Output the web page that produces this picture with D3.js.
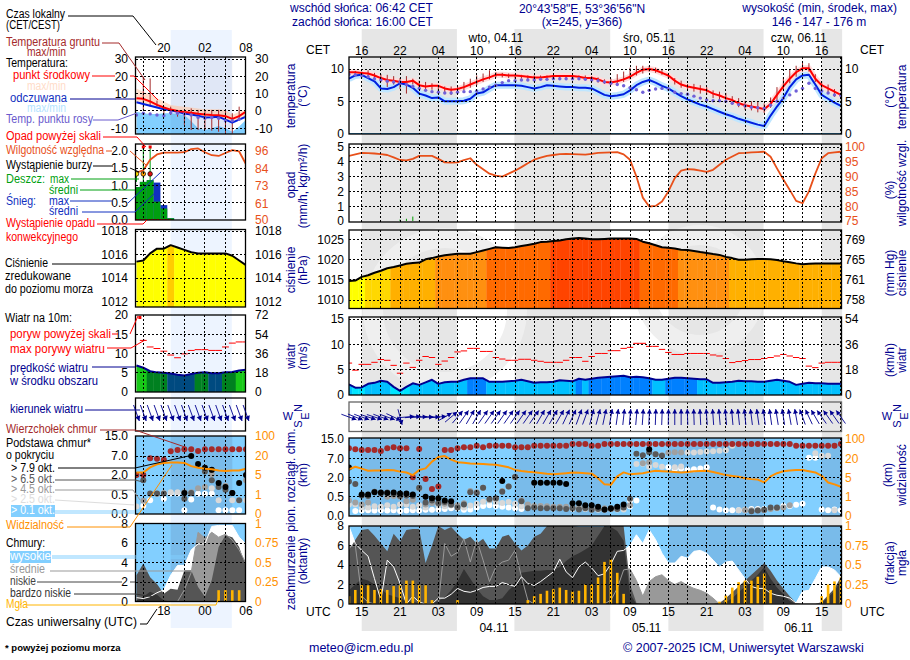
<!DOCTYPE html>
<html>
<head>
<meta charset="utf-8">
<script src="https://cdn.jsdelivr.net/npm/d3@7"></script>
<style>
html, body { margin: 0; padding: 0; background: #fff; }
text { font-family: "Liberation Sans", Arial, sans-serif; font-size: 12px; }
</style>
</head>
<body>
<svg id="chart" width="910" height="660"></svg>
<script>
// hours counted from 03.11 15 UTC, one value per hour, -2 .. 75
var hours = d3.range(-2, 76);
// small panel: 14 UTC .. 06 UTC next day (24 = 00 UTC)
var hoursL = d3.range(14, 31);

var tempMid = [9.5,9.5,9.4,9.3,9.0,8.6,8.3,8.2,8.0,8.0, 8.2,7.5,7.3,7.4,7.4,7.0,6.8,6.9,7.2,7.6, 8.0,8.4,8.7,9.1,9.1,9.0,9.0,8.9,8.8,8.7, 8.7,8.8,8.9,8.9,8.9,8.9,8.8,8.6,8.6,8.4, 8.0,7.9,8.1,8.4,8.8,9.4,9.9,10,9.8,9.4, 9.0,8.2,7.6,7.3,7.1,6.9,6.7,6.2,5.9,5.5, 5.2,4.7,4.4,4.2,4.0,3.8,4.6,6.0,7.3,8.5, 9.5,10.1,10.1,8.5,7.5,7.0,6.5,6.0];
var tempFeel = [8.5,9.0,9.1,8.6,8.1,7.0,6.9,7.2,7.8,7.6, 7.1,6.2,5.9,5.5,5.6,5.0,5.0,5.0,5.1,5.4, 6.2,6.4,7.0,7.5,7.5,7.5,7.5,7.4,7.2,7.0, 7.2,7.5,7.4,7.3,7.2,7.2,7.1,7.1,7.0,6.5, 6.0,5.8,5.9,6.1,6.7,7.5,8.0,8.3,7.9,7.4, 7.0,6.4,5.8,5.3,4.9,4.5,4.2,3.8,3.4,3.0, 2.7,2.3,2.0,1.7,1.4,1.2,2.8,4.2,5.5,7.2, 8.4,9.0,9.1,7.6,6.0,5.4,4.8,4.3];
var tempDew = [9.2,9.1,9.0,8.8,8.5,8.3,8.1,8.0,8.0,7.6, 7.3,7.0,6.7,6.5,6.4,6.3,6.3,6.4,6.5,6.5, 6.6,6.9,7.2,7.5,7.9,8.2,8.2,8.3,8.3,8.3, 8.4,8.4,8.5,8.5,8.5,8.5,8.5,8.4,8.3,8.2, 8.0,7.8,7.6,7.4,7.1,6.8,6.4,6.7,6.9,7.0, 6.9,6.4,6.2,6.1,5.8,5.5,5.2,5.1,5.1,5.0, 4.7,4.5,4.3,4.1,4.0,3.9,4.4,5.0,5.5,6.0, 6.6,7.0,7.8,7.0,6.6,6.3,6.0,5.9];
var soilMax = [9.7,9.7,9.6,9.8,9.4,9.2,9.1,8.9,8.6,8.9, 8.5,8.2,8.0,7.8,7.5,7.3,7.3,7.5,8.0,8.5, 9.0,9.3,9.8,9.5,9.4,9.3,9.2,9.1,9.0,9.0, 9.0,9.0,9.0,9.0,9.0,9.0,9.0,9.0,8.9,8.7, 8.4,8.5,9.2,9.6,10.2,10.5,10.5,10.5,10.2,10.0, 9.3,8.6,8.2,7.7,7.7,7.5,7.2,6.7,6.5,6.3, 5.8,5.5,5.1,5.0,4.9,4.7,5.6,7.2,8.7,9.9, 10.5,11,10.9,9.2,8.1,7.6,6.9,6.2];
var soilMin = [9.3,9.2,8.6,8.8,8.5,8.0,7.2,7.6,6.9,6.2, 7.6,6.9,6.7,6.8,6.6,6.2,6.0,6.2,6.7,7.1, 7.5,8.0,8.4,8.7,8.7,8.6,8.5,8.5,8.4,8.4, 8.4,8.5,8.5,8.5,8.5,8.5,8.4,8.3,8.2,7.9, 7.7,7.5,7.7,8.0,8.4,9.0,9.3,9.6,9.4,9.1, 8.5,7.6,7.1,6.8,6.5,6.2,6.0,5.5,5.1,4.9, 4.5,4.1,3.7,3.6,3.3,3.2,4.0,5.2,6.7,7.8, 8.8,9.6,9.6,8.0,6.9,6.3,5.7,5.5];
var humidity = [97,97.5,98,97.9,97.8,97.6,97.3,96.5,95.6,95.5, 96,97,97,97,96,94.8,94.7,94.8,95.6,96.2, 94,92.5,91,90.3,90,91,92,93.2,94.5,95.7, 96.4,97,97.3,97.6,97.7,97.6,97.5,97.4,97.7,98, 98.1,98.2,98.3,97.5,95.7,90,82.9,79.9,80.1,81.6, 85,89.5,92,92.5,92.4,92,91.6,92.3,94,95.7, 96.8,97.9,98,98.2,98.3,98.4,96.7,92.8,89,85.5, 81.8,81,85,91,96.2,97.9,98.2,98.4];
var precipMax = [0,0,0,0,0,0,0,0,0.1,0.15, 0.3,0.03,0,0,0,0,0,0,0,0];
var pressure = [1014.7,1014.8,1015.7,1016.1,1016.7,1017.2,1017.8,1018.1,1018.5,1018.9, 1019.1,1019.2,1020.0,1020.3,1020.7,1021,1021.2,1021.4,1021.4,1021.4, 1021.8,1022.2,1022.6,1023,1022.9,1022.8,1023,1023.3,1023.6,1023.9, 1024.3,1024.4,1024.6,1024.7,1025,1025.2,1025.3,1025.2,1025,1025, 1025.1,1025.2,1025.2,1025.2,1025.2,1025.1,1024.4,1024,1023.5,1023, 1022.9,1022.7,1022.4,1022.3,1022.1,1021.8,1021.6,1021.3,1021.1,1020.6, 1020.3,1019.9,1019.9,1020,1020.1,1020.1,1020,1019.8,1019.5,1019.3, 1019,1018.8,1018.9,1019,1019,1019,1019,1019];
var windMean = [2.1,1.45,1.5,2.2,2.4,2.8,2.6,1.6,0.8,1.6, 2.3,2,2.5,3,2.2,2.5,2.6,2.6,3,3.3, 3.3,3.3,2.6,2.6,2.6,2.7,2.8,3,2.7,2.4, 2.5,2.5,2.6,2.9,2.8,2.7,3.2,3.0,3.2,3.4, 3.5,3.6,3.7,3.8,3.5,3.6,3.5,3.3,3,3, 3.2,3.4,3.4,3.3,3.2,3.1,3.1,2.4,2.4,2.5, 2.6,2.8,2.7,2.7,2.6,2.6,2.8,3,2.8,2.6, 2,2.2,2.4,2.3,2.3,2.2,2.2,2.2];
var windGust = [6.3,4.9,6.05,6.05,6.45,7,6.85,5.85,4.3,6.3, 5.45,6.85,7.6,7.4,6.05,6.7,7.4,8.5,8.7,9.2, 9.2,8.6,8.6,7.4,7.1,6.85,6.85,7.05,7.05,6.85, 6.65,6.45,6.45,6.45,6.85,7.4,7.4,6.65,7.6,8.2, 8.2,8.75,8.75,9.2,9.4,10.2,10.2,9.6,9.6,9, 8.4,8,8,8.2,8.2,8.2,8.2,7.9,7.7,7.2, 6.4,6.6,6.8,7,7,7.2,7.4,7.7,8,7.7, 7.4,7.2,5.7,5.4,6.3,6.45,6.45,6.45];
var windDir = [110,112,110,108,108,110,110,115,165,85, 85,88,90,90,85,60,50,40,35,30, 30,35,35,35,35,35,35,35,35,35, 30,30,30,30,25,25,20,20,15,15, 12,10,8,6,5,5,4,3,2,2, 1,0,0,358,358,357,356,356,355,355, 355,354,354,353,352,352,352,351,351,350, 350,340,335,330,325,325,325,325];
var visibility = [11.5,13.5,12,10.4,10.5,10.6,11,10.8,9.7,9, 7,11,12.2,17.4,25,29,19,17,16.5,16, 15.7,15.5,15.3,15,14,13,11,10.2,9.6,9.2, 8.6,8,7.6,8,8.5,9.1,8.8,8.4,8.1,4.9, 3.6,3.5,6,9.1,7.6,8,8.5,9.5,10.4,10, 9.7,9.4,9.1,9.5,10,10.2,10.4,9.4,8.2,7, 6.4,5.8,4.9,4.7,4.6,4,6,8.5,10,10.5, 11,11,10,9.1,6.5,4,3.6,3.1];
var cloudHigh = [8,6.2,5.5,4.9,2.6,0.4,4.5,3.8,2.1,0, 0.8,0.2,0,0,0.6,0.6,1,1.6,1.3,1.2, 1.4,1.7,1.8,1.8,2.2,2,1.8,2.8,2.1,1.9, 2.3,2.8,3.3,4.6,3.3,2.7,3.8,4.3,3.7,2.9, 3.1,4.1,5.4,5.5,6,7.1,6.2,7.6,6.6,5.2, 4.2,4.2,4.9,4.7,5.4,5.5,5.2,4.5,3.8,4.3, 4.4,3.5,2.6,1.8,1.6,1.6,1.1,0.9,0.8,0.6, 0.1,1.3,1.4,2.6,3.8,3.8,3.5,2.8];
var cloudMid = [5.9,6.0,0.8,0.2,0,0,0,0,0,0, 0,0,0,0,0,6.2,4.9,5.3,6.7,4.3, 6.6,4.5,2.3,3.8,4.3,4.5,5.5,2.8,0.4,0, 0,0,0,0,0,0,0,0,0,0, 0,0.4,1.6,3.5,3.6,2.4,0.8,2.3,2.8,3, 2.4,2,2.3,1.9,1.6,1.4,1.1,0.6,0,0, 0,0,0,0,0,0,0,0,0,0, 0,0,0,0,0,0,0,0];
var cloudLow = [5.5,6.6,7.6,7.7,7.0,6.2,5.4,7.2,6.4,7.6, 7.7,7.7,4.2,6.0,8,7.6,7.9,7.2,6.6,6.9, 6.2,6.7,5.7,5.7,6.9,7.1,6.2,5.5,6,6.9, 7.2,8,8,8,8,8,7.9,7.9,7.9,7.9, 7.9,8,8,8,2,0.1,0,0,0,0, 0,0,0,0,0,0,0,0,0.1,0.6, 1.2,1.8,2.4,3,3.6,4.2,3.4,2.4,1.6,0.8, 0.1,0,0,0,0.2,0.9,1.6,2.8];
var cloudVLow = [1.4,2,2.6,2.4,2,1.6,1,0.8,0.6,0.3, 0.2,0.1,0.1,0.1,0.3,0.7,1.4,2.3,3.6,2.6, 1.6,0.8,0.4,0.4,0.6,1.4,2,3.2,3.3,3.4, 3.4,3.5,3.5,3.8,4.4,4.9,5.2,5.6,6,7, 8,7.9,7.5,6.5,1,0,0,0,0,0, 0,0,0,0,0,0,0,0,0,0.2, 0.6,1.2,1.8,2.4,3,3.8,2.6,1.7,1,0.3, 0,0,0,0,0.1,0.7,1.3,2.4];
var fog = [0.1,0.18,0.24,0.24,0.18,0.19,0.18,0.23,0.24,0.3, 0.3,0.24,0.24,0.05,0,0,0,0.05,0,0, 0,0,0,0,0,0,0,0,0.05,0.1, 0.13,0.17,0.19,0.21,0.18,0.16,0.17,0.25,0.25,0.34, 0.54,0.57,0.4,0.13,0,0,0,0,0,0, 0,0,0,0,0,0,0,0,0.03,0.11, 0.21,0.28,0.3,0.3,0.35,0.39,0.18,0,0,0, 0,0,0,0,0.1,0.25,0.29,0.34];
var cloudTop = [11,10.6,10.3,10.3,10.3,9.9,11,11.4,11,11, 2.1,10.7,1.9,1.1,1.3,10.3,10.3,11,11.4,11.4, 12,11.4,12,12,12,12,11.4,11.4,11.4,12, 12,12,12,12,12,12.7,12.7,12.7,12,12, 12.7,12.7,12.7,12.7,12.7,12.7,12.7,12.7,12.7,12.7, 12.7,12.7,12.7,12.7,12.7,12.7,12.7,12.7,12.7,12.7, 12.7,12.7,12.7,12.7,12.7,12.7,12.7,12.7,12.7,12.7, 12,12,12,12,12,12,12,12.7];
// cloud base [hour, km], only hours where the marker shows
var baseWhite = [[-1,0.13],[0,0.14],[1,0.15],[2,0.14],[3,0.15],[4,0.14],[5,0.15],[6,0.13],[7,0.14],[8,0.15],[9,0.14],[10,0.16],[11,0.16],[12,0.17],[13,0.18],[14,0.2],[15,0.2],[16,0.16],[17,0.17],[18,0.22],[19,0.26],[20,0.28],[21,0.26],[22,0.24],[23,0.22],[24,0.2],[25,0.18],[42,0.25],[42,0.4],[43,0.4],[48,4.7],[49,4.2],[50,4.4],[51,4],[52,4.2],[53,4.4],[54,4.7],[55,0.22],[56,0.17],[57,0.15],[58,0.15],[59,0.15],[60,0.15],[61,0.18],[62,0.18],[63,0.18],[64,0.2],[65,0.2],[66,0.26],[67,0.26],[68,0.29],[69,0.32],[70,7.2],[71,7.2],[72,0.17],[73,0.15],[74,0.17],[75,0.15]];
var baseLight = [[-2,0.3],[-1,0.3],[0,0.22],[1,0.22],[2,0.25],[3,0.24],[4,0.28],[5,0.24],[6,0.3],[7,0.3],[8,0.24],[9,0.28],[10,0.22],[12,0.28],[13,0.25],[16,0.22],[17,0.27],[18,0.32],[19,0.37],[20,0.4],[21,0.36],[22,0.34],[23,0.36],[24,0.32],[25,0.25],[26,0.28],[27,0.26],[28,0.25],[29,0.24],[30,0.23],[31,0.22],[32,0.2],[33,0.18],[34,0.18],[35,0.18],[36,0.17],[37,0.16],[38,0.16],[39,0.18],[40,0.17],[41,0.17],[43,5.5],[44,5.6],[45,4.8],[46,5.3],[47,4.8],[49,4.7],[50,4.9],[51,9.3],[52,9.3],[53,9.5],[54,9.7],[55,9.8],[56,10],[57,10.2],[58,12],[59,0.15],[60,0.16],[72,8],[73,8],[71,9],[74,0.15]];
var baseMid = [[-2,0.4],[-1,0.35],[0,0.3],[1,0.35],[4,0.5],[5,0.55],[6,0.5],[7,0.38],[8,0.42],[9,1.15],[10,0.3],[11,0.34],[12,0.32],[13,0.32],[14,0.28],[15,0.28],[16,0.33],[17,0.95],[18,0.85],[19,1.2],[20,0.42],[21,0.45],[22,0.95],[23,1.3],[24,2.2],[25,0.4],[26,0.3],[27,0.26],[28,0.26],[29,0.25],[30,0.24],[31,0.24],[32,0.24],[33,0.22],[34,0.22],[35,0.22],[36,0.2],[37,0.2],[38,0.2],[39,0.2],[40,0.22],[41,0.24],[42,0.28],[44,5.7],[45,6],[46,8.6],[47,8.2],[48,9.2],[49,9.4],[50,9.3],[60,0.15],[61,0.15],[62,0.15],[63,0.15],[64,0.18],[65,0.2],[66,0.22],[67,0.28]];
var baseDark = [[-2,1.7],[-1,1.5],[0,0.6],[1,0.55],[2,0.9],[3,0.75],[4,0.84],[5,0.7],[6,0.55],[7,0.6],[8,0.55],[9,1.2],[10,0.35],[11,0.4],[12,0.34],[13,0.36],[14,0.3],[15,0.22],[16,0.3],[17,0.85],[18,0.8],[19,1.2],[20,0.44],[21,0.46],[22,0.9],[23,1.3],[24,2.2],[25,0.38],[26,0.2],[27,0.22],[28,0.2],[29,0.2],[30,0.2],[31,0.2],[32,0.18],[33,0.2],[34,0.17],[35,0.2],[36,0.16],[37,0.18],[38,0.16],[39,0.18],[40,0.18],[41,0.22],[42,0.45],[43,8.8],[44,8.2],[45,9.4],[46,8.6],[47,8],[61,0.12],[62,0.14],[63,0.16],[64,0.22],[65,0.22]];
var baseBlack = [[-2,4.6],[0,0.68],[1,0.68],[2,0.85],[3,0.84],[4,0.8],[5,0.84],[6,0.76],[7,0.76],[8,0.68],[10,0.5],[11,0.46],[12,0.46],[13,0.4],[14,0.38],[22,1.74],[27,1.6],[28,1.6],[29,1.6],[30,1.6],[31,1.6],[32,1.5],[33,0.33],[34,0.33],[35,0.28],[36,0.28],[37,0.24],[38,0.17],[39,0.2],[40,0.24],[41,0.3],[45,10.6]];

var days = ["wto, 04.11", "śro, 05.11", "czw, 06.11"];
var dayHours = [21, 45, 68.4];
var utcDays = ["04.11", "05.11", "06.11"];
var utcDayHours = [20.7, 44.6, 68.4];
var localTicks = ["16","22","04","10","16","22","04","10","16","22","04","10","16"];
var utcTicks = ["15","21","03","09","15","21","03","09","15","21","03","09","15"];
var nightBands = [[0, 14.9], [23.9, 38.9], [48, 62.9], [72, 75.2]];

// small panel series
var tempMidL = [7.3,7,5.5,3.5,2,0.8,0,-0.6,-1,-1.6,-2,-2.3,-2.5,-3,-4.6,-3,-0.4];
var tempFeelL = [5,4,3,2,1,0.4,-0.5,-1.5,-2,-2.8,-3.7,-3.6,-3.4,-5,-6.7,-5,-3.3];
var tempMaxL = [13,11,9.8,7.3,5.4,3.5,2.9,2.5,2,1.5,1,1,1,0.6,-2.3,-0.4,0.6];
var tempLowL = [-0.4,-1.3,-1.7,-1.7,-1.3,-1.3,-1.7,-2.3,-6,-10,-11,-10,-8.6,-10,-12,-9,-5];
var tempDewL = [-2.3,-1.3,-1.7,-2.3,-2.7,-1,-1.3,-1.7,-2.3,-3.7,-4.2,-3.7,-4.2,-5.6,-5.6,-4.8,-3.3];
var soilMaxL = [null,19.8,18.8,6,2.5,2.5,0.6,-2.3,1.5,0.6,0.6,0.6,0.6,0.6,-1.3,2.5,-1.3];
var soilMinL = [null,0.6,2.5,2.5,-2.3,-2.3,-3.3,-8,-11,-11,-11,-11.4,-12,-13,-13,-5,-5];
var humidityL = [81.5,83,90,93.5,94.7,94.7,94.7,95,97,97.5,95,93,92.5,94.5,96.4,95.5,87];
var rainMeanL = [0.95,1.1,1.15,0.53,0.33,0.05,0,0,0,0,0,0,0,0,0,0,0];
var snowMaxL = [0.95,1.1,1.15,1.08,0.43,0.05,0,0,0,0,0,0,0,0,0,0,0];
var stormHoursL = [14, 15, 16];
var stormColorsL = ["#ffe000", "#ffa000", "#e01010"];
var overScaleHoursL = [15, 16];
var pressureL = [1015.4,1015.5,1016.1,1016.5,1016.5,1016.8,1016.6,1016.4,1016.2,1016.1,1016.1,1016.1,1016.1,1016.1,1015.9,1015.5,1015.1];
var windMeanL = [6.9,6.3,5.4,5.1,5,4.8,4.5,4.3,4.7,5,5.1,4.9,4.9,5.1,5.2,5.6,5.8];
var windGustL = [null,13.4,11.7,11.3,10.6,9.6,8.9,9.9,10.8,11,11,10.8,10.8,11.7,12.7,13,13];
var windDirL = [160,160,160,160,160,160,160,160,160,160,160,160,160,160,160,160,160];
var visibilityL = [7,7,11,13.5,14.5,14.8,14.8,14.5,12,10.8,10,9.5,8.5,8.2,8.6,8.5,10];
var cloudHighL = [0.4,0.3,0.5,0.9,1.2,2.7,3.7,3.7,5.3,5.9,5.9,7.7,7.8,7.8,7.8,6.6,5.9];
var cloudMidL = [0,0,0,0,0,0,0,1.2,3,7.1,6.5,7.1,6.6,6.9,6.3,5.3,3.9];
var cloudLowL = [2.7,3.9,2.5,1.8,0.8,1.3,1.2,3.2,3.2,1.5,0.5,2.2,5.6,6.8,6.6,5.6,3.6];
var cloudVLowL = [0.1,0.5,1,0.7,0.1,0,0,0,0,0,0,0,0,0,0,0,0];
var fogL = [0,0,0,0,0,0,0,0,0,0,0,0,0.145,0.145,0.145,0.145,0];
var topL = [2,2,6.4,6.3,6,8.9,9.4,9.7,9.7,9,9.7,9.7,9.7,9.7,9.7,9.7,9.7];
var baseWhiteL = [[15,0.22],[16,0.36],[18,0.4],[19,0.62],[20,0.62],[21,0.1],[22,0.38],[23,0.6],[24,0.6],[25,0.6],[26,0.1],[27,0.1],[28,0.1],[29,0.1]];
var baseLightL = [[14,0.2],[17,0.6],[18,0.65],[19,0.7],[20,0.7],[26,0.36],[28,0.36],[29,0.36],[30,0.36],[25,1]];
var baseMidL = [[15,0.35],[17,0.6],[21,0.7],[22,0.7],[23,1],[24,1.1],[25,2.2],[27,1.2],[30,1.6]];
var baseDarkL = [[15,1.6],[16,0.62],[17,0.62],[18,0.62],[21,0.4],[22,0.65],[24,2.9],[25,3.3],[25,1.6],[26,1.1],[27,0.9],[28,0.65],[29,0.36]];
var baseBlackL = [[21,0.65],[22,7],[23,4.9],[24,3.9],[25,3.4],[26,1.4],[27,1.1],[28,0.65],[29,1.4],[30,2]];

var navy = "#000090", sky = "#82cfff", skyNight = "#79bbea", humColor = "#e8501a", visColor = "#ff9000", fogColor = "#ffb400";

var svg = d3.select("#chart");

var x = d3.scaleLinear().domain([0, 72]).range([361.7, 821.7]);
var xL = d3.scaleLinear().domain([15, 30]).range([143.3, 246]);
var mainBox = { left: 349, right: 841.5 }, smallBox = { left: 135.5, right: 245.5 };

// scales
var yTemp = d3.scaleLinear().domain([0, 10]).range([133.7, 69]);
var yPrecip = d3.scaleLinear().domain([0, 5]).range([221, 147]);
var yHum = d3.scaleLinear().domain([75, 100]).range([221, 147]);
var yPres = d3.scaleLinear().domain([1010, 1015, 1020, 1025]).range([300, 279.7, 259.3, 239.3]);
var yMm = d3.scaleLinear().domain([758, 761, 765, 769]).range([300, 279.7, 259.3, 239.3]);
var yWind = d3.scaleLinear().domain([0, 15]).range([395, 319]);
var yKmh = d3.scaleLinear().domain([0, 54]).range([395, 319]);
var yBase = d3.scaleLinear().domain([0, 0.5, 2, 7, 15]).range([516, 496.7, 477.7, 458.3, 438.3]);
var yVis = d3.scaleLinear().domain([0, 1, 5, 20, 100]).range([516, 496.7, 477.7, 458.3, 438.3]);
var yCloud = d3.scaleLinear().domain([0, 8]).range([604, 526]);
var yFog = d3.scaleLinear().domain([0, 1]).range([604, 526]);

var yTempL = d3.scaleLinear().domain([-10, 30]).range([128.3, 59]);
var yPrecipL = d3.scaleLinear().domain([0, 2]).range([220, 150.7]);
var yHumL = d3.scaleLinear().domain([50, 96]).range([220, 150.7]);
var yPresL = d3.scaleLinear().domain([1012, 1018]).range([301.7, 231]);
var yWindL = d3.scaleLinear().domain([0, 20]).range([392, 315]);
var yKmhL = d3.scaleLinear().domain([0, 72]).range([392, 315]);
var yBaseL = d3.scaleLinear().domain([0, 0.5, 2, 7, 15]).range([514, 495, 475, 456, 436]);
var yVisL = d3.scaleLinear().domain([0, 1, 5, 20, 100]).range([514, 495, 475, 456, 436]);
var yCloudL = d3.scaleLinear().domain([0, 8]).range([601.5, 523.5]);
var yFogL = d3.scaleLinear().domain([0, 1]).range([601.5, 523.5]);

var presColor = d3.scaleThreshold().domain([1016, 1018, 1020.5, 1022.5, 1024.5]).range(["#ffff00", "#ffd800", "#ffb000", "#ff9010", "#ff6a00", "#ff4400"]);
var presColorL = d3.scaleThreshold().domain([1016.7]).range(["#ffff00", "#ffcc00"]);
var windColor = d3.scaleThreshold().domain([2, 3.2]).range(["#00e5ff", "#00c0ff", "#0080ff"]);
var windColorL = d3.scaleThreshold().domain([4.95, 5.55]).range(["#004a80", "#008020", "#18c818"]);

// backgrounds behind everything
var bg = svg.append("g");
bg.selectAll("rect.night").data(nightBands).enter().append("rect")
    .attr("x", function(d) { return x(d[0]); })
    .attr("width", function(d) { return x(d[1]) - x(d[0]); })
    .attr("y", 29).attr("height", 602).attr("fill", "#e6e6e6");
bg.append("rect").attr("x", xL(19)).attr("width", xL(28) - xL(19) - 0.5).attr("y", 30).attr("height", 598).attr("fill", "#edf4ff");

// faint logo behind the main panels
bg.append("g").attr("fill", "none").attr("stroke", "#efefef").attr("stroke-width", 20)
  .selectAll("circle").data([[445, 310, 72], [700, 290, 55]]).enter().append("circle")
    .attr("cx", function(d) { return d[0]; }).attr("cy", function(d) { return d[1]; }).attr("r", function(d) { return d[2]; });

function series(hs, vals) {
  return hs.map(function(h, i) { return { h: h, v: vals[i] }; }).filter(function(d) { return d.v != null; });
}

function panel(xs, box, top, bottom) {
  var g = svg.append("g");
  g.box = box; g.top = top; g.bottom = bottom; g.xs = xs;
  var id = "clip" + Math.round(top) + "_" + Math.round(box.left);
  svg.append("clipPath").attr("id", id).append("rect")
    .attr("x", box.left).attr("y", top).attr("width", box.right - box.left).attr("height", bottom - top);
  g.clip = "url(#" + id + ")";
  g.marks = g.append("g").attr("clip-path", g.clip);
  return g;
}

function grid(p, vHours, yVals, yScale) {
  var g = p.append("g").attr("stroke", "#000").attr("stroke-dasharray", "2,2").attr("shape-rendering", "crispEdges");
  g.selectAll("line.v").data(vHours).enter().append("line")
    .attr("x1", function(d) { return p.xs(d); }).attr("x2", function(d) { return p.xs(d); })
    .attr("y1", p.top).attr("y2", p.bottom);
  g.selectAll("line.h").data(yVals).enter().append("line")
    .attr("x1", p.box.left).attr("x2", p.box.right)
    .attr("y1", function(d) { return yScale(d); }).attr("y2", function(d) { return yScale(d); });
}

function frame(p, color) {
  p.append("rect").attr("x", p.box.left).attr("y", p.top)
    .attr("width", p.box.right - p.box.left).attr("height", p.bottom - p.top)
    .attr("fill", "none").attr("stroke", color || "#000").attr("stroke-width", 1.3);
}

function axis(side, xPos, scale, vals, fmt, color) {
  var a = (side === "left" ? d3.axisLeft(scale) : d3.axisRight(scale))
    .tickValues(vals).tickSize(0).tickPadding(0).tickFormat(fmt || String);
  var g = svg.append("g").attr("transform", "translate(" + xPos + ",0)").call(a);
  g.select(".domain").remove();
  g.selectAll("text").attr("fill", color || "#000").style("font-family", '"Liberation Sans", Arial, sans-serif').style("font-size", "12px");
}

function lineOn(p, xs, y, data, color, width, opacity) {
  p.marks.append("path")
    .attr("d", d3.line().x(function(d) { return xs(d.h); }).y(function(d) { return y(d.v); })(data))
    .attr("fill", "none").attr("stroke", color).attr("stroke-width", width).attr("stroke-opacity", opacity == null ? 1 : opacity)
    .attr("stroke-linejoin", "round");
}

function bandOn(p, xs, y, hi, lo, color) {
  p.marks.append("path")
    .attr("d", d3.area().x(function(d, i) { return xs(d.h); }).y0(function(d, i) { return y(lo[i].v); }).y1(function(d) { return y(d.v); })(hi))
    .attr("fill", color);
}

function areaOn(p, xs, y, data, color) {
  p.marks.append("path")
    .attr("d", d3.area().x(function(d) { return xs(d.h); }).y0(p.bottom).y1(function(d) { return y(d.v); })(data))
    .attr("fill", color);
}

function hourRects(p, xs, y, data, colorFn) {
  var id = "fill" + Math.round(p.top) + "_" + Math.round(p.box.left);
  svg.append("clipPath").attr("id", id).append("path")
    .attr("d", d3.area().x(function(d) { return xs(d.h); }).y0(p.bottom).y1(function(d) { return y(d.v); })(data));
  p.marks.append("g").attr("clip-path", "url(#" + id + ")")
    .selectAll("rect").data(data).enter().append("rect")
    .attr("x", function(d) { return xs(d.h - 0.5); })
    .attr("width", function(d) { return xs(d.h + 0.5) - xs(d.h - 0.5) + 0.3; })
    .attr("y", p.top).attr("height", p.bottom - p.top)
    .attr("fill", function(d) { return colorFn(d.v); });
}

function dots(p, xs, y, pairs, color, r) {
  p.marks.append("g").selectAll("circle").data(pairs).enter().append("circle")
    .attr("cx", function(d) { return xs(d[0]); }).attr("cy", function(d) { return y(d[1]); })
    .attr("r", r || 3).attr("fill", color);
}

function skyBack(p, xs, bands) {
  p.marks.append("rect").attr("x", p.box.left).attr("y", p.top).attr("width", p.box.right - p.box.left).attr("height", p.bottom - p.top).attr("fill", sky);
  p.marks.selectAll("rect.n").data(bands).enter().append("rect")
    .attr("x", function(d) { return xs(d[0]); }).attr("width", function(d) { return xs(d[1]) - xs(d[0]); })
    .attr("y", p.top).attr("height", p.bottom - p.top).attr("fill", skyNight);
}

function arrows(p, xs, data, len, head, mid) {
  var g = p.append("g").attr("fill", navy).attr("stroke", navy);
  data.forEach(function(d) {
    var a = d.v * Math.PI / 180, dx = Math.sin(a), dy = -Math.cos(a);
    var cx = xs(d.h), x1 = cx - dx * len / 2, y1 = mid - dy * len / 2, x2 = cx + dx * len / 2, y2 = mid + dy * len / 2;
    g.append("line").attr("x1", x1).attr("y1", y1).attr("x2", x2).attr("y2", y2).attr("stroke-width", 0.9);
    g.append("path").attr("stroke", "none").attr("d",
      "M" + x2 + "," + y2 +
      "L" + (x2 - dx * head - dy * head * 0.55) + "," + (y2 - dy * head + dx * head * 0.55) +
      "L" + (x2 - dx * head + dy * head * 0.55) + "," + (y2 - dy * head - dx * head * 0.55) + "Z");
  });
}

var vMain = d3.range(0, 76, 3), vSmall = [15, 18, 21, 24, 27];
var one = d3.format(".1f");

// ---- main temperature
var p = panel(x, mainBox, 57, 134);
var mid = series(hours, tempMid), feel = series(hours, tempFeel);
grid(p, vMain, [5, 10], yTemp);
lineOn(p, x, yTemp, feel, "#bfe6ff", 7);
lineOn(p, x, yTemp, mid, "#ffdcdc", 6);
hours.forEach(function(h, i) {
  p.marks.append("line").attr("x1", x(h)).attr("x2", x(h)).attr("y1", yTemp(soilMax[i])).attr("y2", yTemp(soilMin[i]))
    .attr("stroke", "#a52a2a").attr("stroke-width", 1);
});
lineOn(p, x, yTemp, feel, "#0020e0", 2);
lineOn(p, x, yTemp, mid, "#ff0000", 2);
dots(p, x, yTemp, hours.map(function(h, i) { return [h, tempDew[i]]; }), "#7060d8", 1.7);
p.marks.append("line").attr("x1", mainBox.left).attr("x2", mainBox.right).attr("y1", yTemp(0)).attr("y2", yTemp(0)).attr("stroke", "#3a9ad9").attr("stroke-width", 1.5);
frame(p);
axis("left", 344, yTemp, [0, 5, 10]);
axis("right", 845, yTemp, [0, 5, 10]);

// ---- main precip and humidity
p = panel(x, mainBox, 144, 222);
grid(p, vMain, [1, 2, 3, 4, 5], yPrecip);
p.marks.selectAll("line.pr").data(series(hours, precipMax).filter(function(d) { return d.v > 0; })).enter().append("line")
  .attr("x1", function(d) { return x(d.h); }).attr("x2", function(d) { return x(d.h); })
  .attr("y1", yPrecip(0)).attr("y2", function(d) { return yPrecip(d.v); }).attr("stroke", "#00a000");
lineOn(p, x, yHum, series(hours, humidity), humColor, 1.8);
frame(p);
axis("left", 344, yPrecip, [0, 1, 2, 3, 4, 5]);
axis("right", 845, yHum, [75, 80, 85, 90, 95, 100], null, humColor);

// ---- main pressure
p = panel(x, mainBox, 230, 308.5);
var presData = series(hours, pressure);
hourRects(p, x, yPres, presData, presColor);
grid(p, vMain, [1010, 1015, 1020, 1025], yPres);
lineOn(p, x, yPres, presData, "#000", 2);
frame(p);
axis("left", 344, yPres, [1010, 1015, 1020, 1025]);
axis("right", 845, yMm, [758, 761, 765, 769]);

// ---- main wind
p = panel(x, mainBox, 317, 395);
var windData = series(hours, windMean);
hourRects(p, x, yWind, windData, windColor);
grid(p, vMain, [5, 10, 15], yWind);
p.marks.selectAll("line.g").data(series(hours, windGust)).enter().append("line")
  .attr("x1", function(d) { return x(d.h - 0.5); }).attr("x2", function(d) { return x(d.h + 0.5); })
  .attr("y1", function(d) { return yWind(d.v); }).attr("y2", function(d) { return yWind(d.v); }).attr("stroke", "#ff0000");
lineOn(p, x, yWind, windData, "#000090", 2);
frame(p);
axis("left", 344, yWind, [0, 5, 10, 15]);
axis("right", 845, yKmh, [0, 18, 36, 54]);

// ---- main wind direction
p = panel(x, mainBox, 402, 431.5);
grid(p, vMain, [], yWind);
frame(p, "#666");
arrows(p, x, series(hours, windDir), 16, 4.5, 417);

// ---- main cloud base
p = panel(x, mainBox, 438, 516);
skyBack(p, x, nightBands);
grid(p, vMain, [0.5, 2, 7], yBase);
dots(p, x, yBase, baseWhite, "#fff");
dots(p, x, yBase, baseLight, "#d8d8d8");
dots(p, x, yBase, baseMid, "#a0a0a0");
dots(p, x, yBase, baseDark, "#585858");
dots(p, x, yBase, baseBlack, "#000");
dots(p, x, yBase, hours.map(function(h, i) { return [h, cloudTop[i]]; }), "#a52a2a");
lineOn(p, x, yVis, series(hours, visibility), visColor, 2);
frame(p);
axis("left", 344, yBase, [0, 0.5, 2, 7, 15], one);
axis("right", 845, yVis, [0, 1, 5, 20, 100], null, visColor);

// ---- main cloud cover
p = panel(x, mainBox, 526, 604);
skyBack(p, x, nightBands);
areaOn(p, x, yCloud, series(hours, cloudHigh), "#fff");
areaOn(p, x, yCloud, series(hours, cloudMid), "#999");
areaOn(p, x, yCloud, series(hours, cloudLow), "#555");
areaOn(p, x, yCloud, series(hours, cloudVLow), "#333");
lineOn(p, x, yCloud, series(hours, cloudMid), "#999", 1);
lineOn(p, x, yCloud, series(hours, cloudHigh), "#fff", 1);
p.marks.selectAll("rect.f").data(series(hours, fog).filter(function(d) { return d.v > 0; })).enter().append("rect")
  .attr("x", function(d) { return x(d.h) - 1.3; }).attr("width", 2.6)
  .attr("y", function(d) { return yFog(d.v); }).attr("height", function(d) { return yFog(0) - yFog(d.v); }).attr("fill", fogColor);
grid(p, vMain, [2, 4, 6], yCloud);
frame(p);
axis("left", 344, yCloud, [0, 2, 4, 6, 8]);
axis("right", 845, yFog, [0, 0.25, 0.5, 0.75, 1], d3.format(""), visColor);

// ---- small temperature
p = panel(xL, smallBox, 57, 134);
var midL = series(hoursL, tempMidL), feelL = series(hoursL, tempFeelL), maxL = series(hoursL, tempMaxL), lowL = series(hoursL, tempLowL);
bandOn(p, xL, yTempL, maxL, feelL, "#ffdfcc");
areaOn(p, xL, yTempL, lowL, sky);
p.marks.append("rect").attr("x", xL(19)).attr("width", xL(28) - xL(19)).attr("y", 57).attr("height", 77).attr("fill", "#000050").attr("opacity", 0.05);
grid(p, vSmall, [-10, 0, 10, 20, 30], yTempL);
hoursL.forEach(function(h, i) {
  if (soilMaxL[i] == null) return;
  p.marks.append("line").attr("x1", xL(h)).attr("x2", xL(h)).attr("y1", yTempL(soilMaxL[i])).attr("y2", yTempL(soilMinL[i]))
    .attr("stroke", "#a52a2a").attr("stroke-width", 1);
});
lineOn(p, xL, yTempL, feelL, "#0020e0", 2);
lineOn(p, xL, yTempL, midL, "#ff0000", 2);
dots(p, xL, yTempL, hoursL.map(function(h, i) { return [h, tempDewL[i]]; }), "#7060d8", 1.7);
frame(p);
axis("left", 128, yTempL, [-10, 0, 10, 20, 30]);
axis("right", 255, yTempL, [-10, 0, 10, 20, 30]);

// ---- small precip
p = panel(xL, smallBox, 144, 220);
grid(p, vSmall, [0.5, 1, 1.5, 2], yPrecipL);
p.marks.selectAll("rect.sn").data(series(hoursL, snowMaxL)).enter().append("rect")
  .attr("x", function(d) { return xL(d.h - 0.5); }).attr("width", xL(1) - xL(0))
  .attr("y", function(d) { return yPrecipL(d.v); }).attr("height", function(d) { return yPrecipL(0) - yPrecipL(d.v); }).attr("fill", "#1030c0");
p.marks.selectAll("rect.rn").data(series(hoursL, rainMeanL)).enter().append("rect")
  .attr("x", function(d) { return xL(d.h - 0.5); }).attr("width", xL(1) - xL(0))
  .attr("y", function(d) { return yPrecipL(d.v); }).attr("height", function(d) { return yPrecipL(0) - yPrecipL(d.v); }).attr("fill", "#00a010");
p.marks.selectAll("line.st").data(stormHoursL).enter().append("line")
  .attr("x1", function(d) { return xL(d); }).attr("x2", function(d) { return xL(d); })
  .attr("y1", function(d) { return overScaleHoursL.indexOf(d) >= 0 ? 147 : yPrecipL(1.4); }).attr("y2", yPrecipL(1.1)).attr("stroke", "#00a010");
lineOn(p, xL, yHumL, series(hoursL, humidityL), humColor, 1.8);
p.marks.selectAll("rect.ov").data(overScaleHoursL).enter().append("rect")
  .attr("x", function(d) { return xL(d) - 1.5; }).attr("y", 145.5).attr("width", 3).attr("height", 3).attr("fill", "#f00000");
p.marks.selectAll("circle.st").data(stormHoursL).enter().append("circle")
  .attr("cx", function(d) { return xL(d); }).attr("cy", yPrecipL(1.33)).attr("r", 2.3)
  .attr("fill", function(d, i) { return stormColorsL[i]; }).attr("stroke", "#000").attr("stroke-width", 0.7);
p.marks.append("line").attr("x1", 136).attr("x2", 172).attr("y1", 219.5).attr("y2", 219.5).attr("stroke", "#f00000").attr("stroke-dasharray", "2,1");
frame(p);
axis("left", 128, yPrecipL, [0, 0.5, 1, 1.5, 2], one);
axis("right", 255, yHumL, [50, 61, 73, 84, 96], null, humColor);

// ---- small pressure
p = panel(xL, smallBox, 229.5, 307);
var presDataL = series(hoursL, pressureL);
hourRects(p, xL, yPresL, presDataL, presColorL);
grid(p, vSmall, [1012, 1014, 1016, 1018], yPresL);
lineOn(p, xL, yPresL, presDataL, "#000", 2);
frame(p);
axis("left", 128, yPresL, [1012, 1014, 1016, 1018]);
axis("right", 255, yPresL, [1012, 1014, 1016, 1018]);

// ---- small wind
p = panel(xL, smallBox, 315, 392);
var windDataL = series(hoursL, windMeanL);
hourRects(p, xL, yWindL, windDataL, windColorL);
grid(p, vSmall, [5, 10, 15], yWindL);
p.marks.selectAll("line.g").data(series(hoursL, windGustL)).enter().append("line")
  .attr("x1", function(d) { return xL(d.h - 0.5); }).attr("x2", function(d) { return xL(d.h + 0.5); })
  .attr("y1", function(d) { return yWindL(d.v); }).attr("y2", function(d) { return yWindL(d.v); }).attr("stroke", "#ff0000");
lineOn(p, xL, yWindL, windDataL, "#000090", 2);
p.marks.append("rect").attr("x", xL(14.5) - 1.5).attr("y", 316).attr("width", 3).attr("height", 3).attr("fill", "#f00000");
frame(p);
axis("left", 128, yWindL, [0, 5, 10, 15, 20]);
axis("right", 255, yKmhL, [0, 18, 36, 54, 72]);

// ---- small wind direction
p = panel(xL, smallBox, 398, 431);
grid(p, vSmall, [], yWindL);
frame(p);
arrows(p, xL, series(hoursL, windDirL), 17, 5, 413);

// ---- small cloud base
p = panel(xL, smallBox, 436, 514);
skyBack(p, xL, [[19, 28]]);
grid(p, vSmall, [0.5, 2, 7], yBaseL);
dots(p, xL, yBaseL, baseWhiteL, "#fff");
dots(p, xL, yBaseL, baseLightL, "#d8d8d8");
dots(p, xL, yBaseL, baseMidL, "#a0a0a0");
dots(p, xL, yBaseL, baseDarkL, "#585858");
dots(p, xL, yBaseL, baseBlackL, "#000");
dots(p, xL, yBaseL, hoursL.map(function(h, i) { return [h, topL[i]]; }), "#a52a2a");
lineOn(p, xL, yVisL, series(hoursL, visibilityL), visColor, 2);
frame(p);
axis("left", 128, yBaseL, [0, 0.5, 2, 7, 15], one);
axis("right", 255, yVisL, [0, 1, 5, 20, 100], null, visColor);

// ---- small cloud cover
p = panel(xL, smallBox, 523.5, 601.5);
skyBack(p, xL, [[19, 28]]);
areaOn(p, xL, yCloudL, series(hoursL, cloudHighL), "#fff");
areaOn(p, xL, yCloudL, series(hoursL, cloudMidL), "#999");
areaOn(p, xL, yCloudL, series(hoursL, cloudLowL), "#555");
areaOn(p, xL, yCloudL, series(hoursL, cloudVLowL), "#333");
lineOn(p, xL, yCloudL, series(hoursL, cloudMidL), "#999", 1);
lineOn(p, xL, yCloudL, series(hoursL, cloudHighL), "#fff", 1);
p.marks.selectAll("rect.f").data(series(hoursL, fogL).filter(function(d) { return d.v > 0; })).enter().append("rect")
  .attr("x", function(d) { return xL(d.h) - 1.3; }).attr("width", 2.6)
  .attr("y", function(d) { return yFogL(d.v); }).attr("height", function(d) { return yFogL(0) - yFogL(d.v); }).attr("fill", fogColor);
grid(p, vSmall, [2, 4, 6], yCloudL);
frame(p);
axis("left", 128, yCloudL, [0, 2, 4, 6, 8]);
axis("right", 255, yFogL, [0, 0.25, 0.5, 0.75, 1], d3.format(""), visColor);

// ---- texts
function label(t, px, py, color, opts) {
  opts = opts || {};
  var el = svg.append("text").attr("x", px).attr("y", py).attr("fill", color || "#000").text(t);
  if (opts.anchor) el.attr("text-anchor", opts.anchor);
  if (opts.size) el.style("font-size", opts.size + "px");
  if (opts.weight) el.style("font-weight", opts.weight);
  if (opts.width) el.attr("textLength", opts.width).attr("lengthAdjust", "spacingAndGlyphs");
  return el;
}
function vlabel(t, px, cy, color) {
  svg.append("text").attr("transform", "translate(" + px + "," + cy + ") rotate(-90)").attr("text-anchor", "middle").attr("fill", color || navy).text(t);
}

label("wschód słońca: 06:42 CET", 290, 12, navy);
label("zachód słońca: 16:00 CET", 292, 26, navy);
label("20°43'58\"E, 53°36'56\"N", 582, 13, navy, { anchor: "middle" });
label("(x=245,  y=366)", 582, 26, navy, { anchor: "middle" });
label("wysokość (min, środek, max)", 897, 12, navy, { anchor: "end" });
label("146 - 147 - 176 m", 819, 26, navy, { anchor: "middle" });

days.forEach(function(d, i) { label(d, x(dayHours[i]), 42, "#000", { anchor: "middle" }); });
localTicks.forEach(function(d, i) { label(d, x(i * 6), 55, "#000", { anchor: "middle" }); });
utcTicks.forEach(function(d, i) { label(d, x(i * 6), 616, "#000", { anchor: "middle" }); });
utcDays.forEach(function(d, i) { label(d, x(utcDayHours[i]), 632, "#000", { anchor: "middle" }); });
label("CET", 306, 54); label("CET", 860, 54); label("UTC", 306, 616); label("UTC", 860, 616);
[["20", 18], ["02", 24], ["08", 30]].forEach(function(d) { label(d[0], xL(d[1]), 52, "#000", { anchor: "middle" }); });
[["18", 18], ["00", 24], ["06", 30]].forEach(function(d) { label(d[0], xL(d[1]), 615, "#000", { anchor: "middle" }); });

label("meteo@icm.edu.pl", 309, 652, navy, { size: 12.5 });
label("© 2007-2025 ICM, Uniwersytet Warszawski", 623, 652, navy, { size: 12.5 });
label("* powyżej poziomu morza", 5, 651, "#000", { size: 9.5, weight: "bold" });

vlabel("temperatura", 295, 96); vlabel("(°C)", 307, 96);
vlabel("opad", 295, 185); vlabel("(mm/h, kg/m²/h)", 307, 186);
vlabel("ciśnienie", 295, 270); vlabel("(hPa)", 307, 270);
vlabel("wiatr", 295, 356); vlabel("(m/s)", 307, 356);
vlabel("pion. rozciągł. chm.", 295, 480); vlabel("(km)", 307, 475);
vlabel("zachmurzenie", 295, 573); vlabel("(oktanty)", 307, 561);
vlabel("(°C)", 894, 97); vlabel("temperatura", 906, 97);
vlabel("(%)", 894, 190); vlabel("wilgotność wzgl.", 906, 183);
vlabel("(mm Hg)", 894, 273); vlabel("ciśnienie", 906, 273);
vlabel("(km/h)", 894, 360); vlabel("wiatr", 906, 360);
vlabel("(km)", 892, 475); vlabel("widzialność", 906, 475);
vlabel("(frakcja)", 894, 563); vlabel("mgła", 906, 563);

// compass letters
[[288, 416, 0, "W"], [298, 408, -90, "N"], [298, 424, -90, "S"], [305, 416, -90, "E"],
 [887, 416, 0, "W"], [897, 408, -90, "N"], [897, 424, -90, "S"], [904, 416, -90, "E"]].forEach(function(c) {
  svg.append("text").attr("transform", "translate(" + c[0] + "," + c[1] + ") rotate(" + c[2] + ")")
    .attr("text-anchor", "middle").attr("dominant-baseline", "central").attr("fill", navy).style("font-size", "11px").text(c[3]);
});

// legend at the left: text, x, baseline, colour, measured width
var darkRed = "#a52a2a", red = "#ff0000", green = "#00a010", blue = "#1030c0", slate = "#6a5acd";
var legend = [
  ["Czas lokalny", 6, 18, "#000", 59], ["(CET/CEST)", 6, 29, "#000", 54],
  ["Temperatura gruntu", 6, 46, darkRed, 94], ["max/min", 27, 56, darkRed, 39],
  ["Temperatura:", 6, 67, "#000", 62], ["punkt środkowy", 13, 79, red, 77], ["max/min", 27, 90, "#ffdcc8", 39],
  ["odczuwana", 10, 102, blue, 57], ["max/min", 27, 112, "#b4e4ff", 39], ["Temp. punktu rosy", 6, 123, slate, 87],
  ["Opad powyżej skali", 6, 140, red, 95], ["Wilgotność względna", 6, 154, humColor, 98], ["Wystąpienie burzy", 6, 169, "#000", 86],
  ["Deszcz:", 6, 183, green, 39], ["max", 50, 183, green, 19], ["średni", 49, 194, green, 29],
  ["Śnieg:", 6, 205, blue, 30], ["max", 49, 205, blue, 20], ["średni", 49, 215, blue, 29],
  ["Wystąpienie opadu", 6, 227, red, 89], ["konwekcyjnego", 6, 241, red, 72],
  ["Ciśnienie", 5, 267, "#000", 43], ["zredukowane", 5, 280, "#000", 66], ["do poziomu morza", 5, 293, "#000", 88],
  ["Wiatr na 10m:", 5, 322, "#000", 67], ["poryw powyżej skali", 10, 338, red, 101], ["max porywy wiatru", 10, 353, red, 95],
  ["prędkość wiatru", 10, 372, navy, 78], ["w środku obszaru", 10, 385, navy, 88], ["kierunek wiatru", 10, 413, navy, 73],
  ["Wierzchołek chmur", 6, 433, darkRed, 91], ["Podstawa chmur*", 6, 447, "#000", 85], ["o pokryciu", 6, 459, "#000", 48],
  ["> 7.9 okt.", 11, 472, "#000", 44], ["> 6.5 okt.", 11, 483, "#555", 44], ["> 4.5 okt.", 11, 493, "#999", 44], ["> 2.5 okt.", 11, 503, "#ddd", 44],
  ["Widzialność", 6, 529, visColor, 58], ["Chmury:", 6, 547, "#000", 39], ["średnie", 10, 573, "#999", 35], ["niskie", 10, 585, "#444", 26],
  ["bardzo niskie", 10, 597, "#333", 61], ["Mgła", 6, 608, fogColor, 22], ["Czas uniwersalny (UTC)", 6, 626, "#000", 131]
];

svg.append("rect").attr("x", 11).attr("y", 505).attr("width", 44).attr("height", 12).attr("fill", sky);
svg.append("rect").attr("x", 10).attr("y", 551).attr("width", 41).attr("height", 12).attr("fill", sky);
legend.forEach(function(d) { label(d[0], d[1], d[2], d[3], { width: d[4] }); });
label("> 0.1 okt.", 11, 514, "#fff", { width: 44 });
label("wysokie", 10, 560, "#fff", { width: 41 });

// leader lines, pixel paths in the legend column
var leaders = [
  ["#000", [[68,16],[133,16],[156,45]]],
  [darkRed, [[102,43],[119,43],[145,80]]],
  [red, [[92,76],[115,76]]], [red, [[130,76],[134,76],[158,100]]],
  [navy, [[70,99],[135,99]]],
  [slate, [[93,120],[118,120],[137,113]]],
  [red, [[103,137],[137,137],[146,147]]],
  [humColor, [[106,151],[112,151]]], [humColor, [[130,151],[146,165]]],
  ["#000", [[93,166],[113,166]]], ["#000", [[130,168],[139,172]]],
  [green, [[71,179],[139,179]]], [green, [[80,190],[135,190]]],
  [blue, [[70,201],[112,201]]], [blue, [[128,203],[161,172]]],
  [blue, [[82,212],[135,212],[160,188]]],
  [red, [[97,224],[143,224],[147,220]]],
  ["#000", [[52,264],[135,264]]],
  [red, [[112,334],[118,334]]], [red, [[130,334],[138,316]]],
  [red, [[107,348],[131,348],[145,340]]],
  [navy, [[92,367],[135,367]]], [navy, [[85,410],[140,410]]],
  [darkRed, [[100,430],[135,430],[185,447]]],
  ["#000", [[58,468],[135,468],[193,455]]],
  ["#555", [[55,480],[135,480],[143,482]]],
  ["#999", [[55,490],[133,490],[140,500]]],
  ["#ddd", [[55,500],[135,505]]],
  [sky, [[55,511],[135,511]]], [sky, [[55,513],[135,513]]],
  [visColor, [[67,527],[130,527],[172,465]]],
  [sky, [[52,556],[186,556]]], [sky, [[52,558],[186,558]]],
  ["#999", [[50,571],[195,571]]],
  ["#444", [[37,582],[122,582]]], ["#444", [[130,582],[135,582]]],
  ["#333", [[74,594],[135,594],[155,597]]],
  [fogColor, [[27,605],[216,605],[219,597]]],
  ["#000", [[140,624],[147,624],[157,609]]]
];
var leaderLine = d3.line();
svg.append("g").attr("fill", "none").selectAll("path").data(leaders).enter().append("path")
  .attr("stroke", function(d) { return d[0]; }).attr("d", function(d) { return leaderLine(d[1]); });
</script>
</body>
</html>
